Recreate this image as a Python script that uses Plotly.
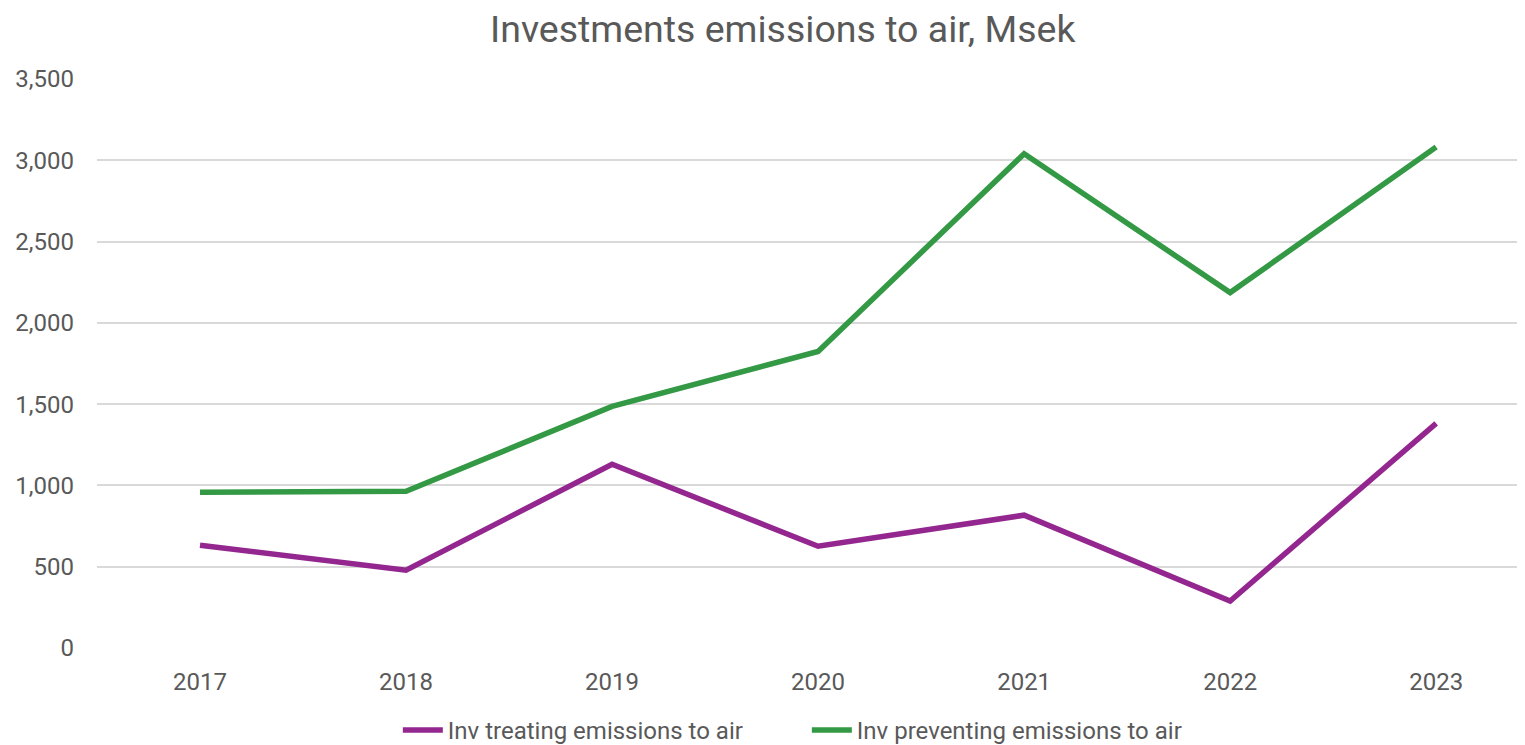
import plotly.graph_objects as go

years = ["2017", "2018", "2019", "2020", "2021", "2022", "2023"]
treating = [632, 479, 1130, 626, 817, 289, 1382]
preventing = [958, 964, 1486, 1824, 3040, 2186, 3082]
y_ticks = [0, 500, 1000, 1500, 2000, 2500, 3000, 3500]
y_labels = ["0", "500", "1,000", "1,500", "2,000", "2,500", "3,000", "3,500"]

fig = go.Figure()
fig.add_trace(go.Scatter(x=years, y=treating, mode="lines", name="Inv treating emissions to air",
                         line=dict(color="#93278F", width=5.5)))
fig.add_trace(go.Scatter(x=years, y=preventing, mode="lines", name="Inv preventing emissions to air",
                         line=dict(color="#339944", width=5.5)))

fig.update_layout(
    width=1525, height=745,
    paper_bgcolor="white", plot_bgcolor="white",
    font=dict(family="Roboto", color="#595959", size=24),
    title=dict(text="Investments emissions to air, Msek", x=0.508, xanchor="center",
               y=0.972, yanchor="middle", font=dict(size=37.5, color="#595959")),
    margin=dict(l=89, r=0, t=71, b=104),
    showlegend=True,
    legend=dict(orientation="h", x=0.2095, xanchor="left", y=-0.144, yanchor="middle",
                font=dict(size=24), itemwidth=40, entrywidth=354),
    xaxis=dict(type="category", range=[-0.5, 6.47], showgrid=False, showline=False,
               ticks="", tickfont=dict(size=24), ticklabelstandoff=17),
    yaxis=dict(range=[0, 3500], tickvals=y_ticks, ticktext=y_labels, showgrid=True,
               gridcolor="#D9D9D9", gridwidth=2, zeroline=False, showline=False,
               tickfont=dict(size=24), ticklabelstandoff=22),
)

fig.write_html("out.html")
